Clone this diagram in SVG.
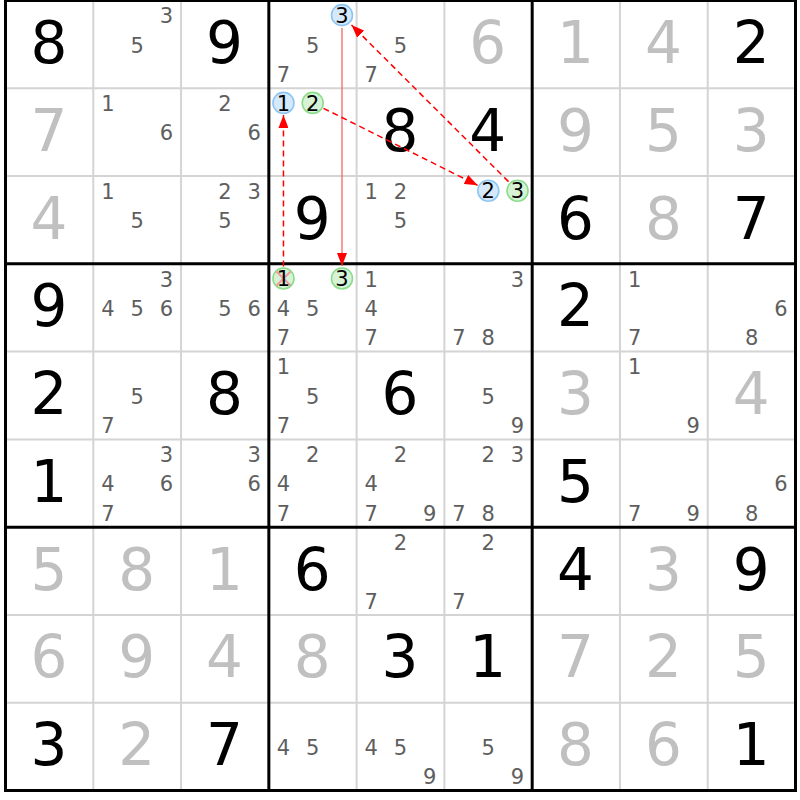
<svg xmlns="http://www.w3.org/2000/svg" width="800" height="800" viewBox="0 0 800 800">
<style>
text{font-family:"DejaVu Sans","Liberation Sans",sans-serif}
.g{font-size:58px;fill:#000;text-anchor:middle}
.s{font-size:58px;fill:#c0c0c0;text-anchor:middle}
.c{font-size:21px;fill:#5e5e5e;text-anchor:middle}
.k{font-size:21px;fill:#000;text-anchor:middle}
.thin{stroke:#d4d4d4;stroke-width:2}
.thick{stroke:#000;stroke-width:3}
.cb{fill:#d6e9fb;stroke:#8ec5f2;stroke-width:1.6}
.cg{fill:#d6f3d6;stroke:#8cdc8c;stroke-width:1.6}
.dash{stroke:#f00;stroke-width:1.5;stroke-dasharray:6,4;fill:none}
.solid{stroke:#f05a5a;stroke-width:1.2;fill:none}
</style>
<defs>
<marker id="ah" markerWidth="13" markerHeight="10" refX="13" refY="5" orient="auto" markerUnits="userSpaceOnUse"><path d="M0,0 L13,5 L0,10 z" fill="#f00"/></marker>
</defs>
<rect x="0" y="0" width="800" height="800" fill="#fff"/>
<g id="grid">
<g class="thin">
<line x1="93.28" y1="0.5" x2="93.28" y2="790.5"/><line x1="181.06" y1="0.5" x2="181.06" y2="790.5"/>
<line x1="356.62" y1="0.5" x2="356.62" y2="790.5"/><line x1="444.4" y1="0.5" x2="444.4" y2="790.5"/>
<line x1="619.96" y1="0.5" x2="619.96" y2="790.5"/><line x1="707.74" y1="0.5" x2="707.74" y2="790.5"/>
<line x1="5.5" y1="88.28" x2="795.5" y2="88.28"/><line x1="5.5" y1="176.06" x2="795.5" y2="176.06"/>
<line x1="5.5" y1="351.62" x2="795.5" y2="351.62"/><line x1="5.5" y1="439.4" x2="795.5" y2="439.4"/>
<line x1="5.5" y1="614.96" x2="795.5" y2="614.96"/><line x1="5.5" y1="702.74" x2="795.5" y2="702.74"/>
</g>
<g class="thick">
<line x1="268.84" y1="0.5" x2="268.84" y2="790.5"/><line x1="532.18" y1="0.5" x2="532.18" y2="790.5"/>
<line x1="5.5" y1="263.84" x2="795.5" y2="263.84"/><line x1="5.5" y1="527.18" x2="795.5" y2="527.18"/>
<rect x="5.5" y="0.5" width="790" height="790" fill="none"/>
</g>
</g>
<!-- Row 1 -->
<g id="r1c1"><text class="g" x="48.89" y="63">8</text></g>
<g id="r1c2"><text class="c" x="166.43" y="23.33">3</text><text class="c" x="137.17" y="52.59">5</text></g>
<g id="r1c3"><text class="g" x="224.45" y="63">9</text></g>
<g id="r1c4"><circle class="cb" cx="341.99" cy="15.13" r="10.5"/><text class="k" x="341.99" y="22.83">3</text><text class="c" x="312.73" y="52.59">5</text><text class="c" x="283.47" y="81.85">7</text></g>
<g id="r1c5"><text class="c" x="400.51" y="52.59">5</text><text class="c" x="371.25" y="81.85">7</text></g>
<g id="r1c6"><text class="s" x="487.79" y="63">6</text></g>
<g id="r1c7"><text class="s" x="575.57" y="63">1</text></g>
<g id="r1c8"><text class="s" x="663.35" y="63">4</text></g>
<g id="r1c9"><text class="g" x="751.13" y="63">2</text></g>
<!-- Row 2 -->
<g id="r2c1"><text class="s" x="48.89" y="150.78">7</text></g>
<g id="r2c2"><text class="c" x="107.91" y="111.11">1</text><text class="c" x="166.43" y="140.37">6</text></g>
<g id="r2c3"><text class="c" x="224.95" y="111.11">2</text><text class="c" x="254.21" y="140.37">6</text></g>
<g id="r2c4"><circle class="cb" cx="283.47" cy="102.91" r="10.5"/><text class="k" x="283.47" y="110.61">1</text><circle class="cg" cx="312.73" cy="102.91" r="10.5"/><text class="k" x="312.73" y="110.61">2</text></g>
<g id="r2c5"><text class="g" x="400.01" y="150.78">8</text></g>
<g id="r2c6"><text class="g" x="487.79" y="150.78">4</text></g>
<g id="r2c7"><text class="s" x="575.57" y="150.78">9</text></g>
<g id="r2c8"><text class="s" x="663.35" y="150.78">5</text></g>
<g id="r2c9"><text class="s" x="751.13" y="150.78">3</text></g>
<!-- Row 3 -->
<g id="r3c1"><text class="s" x="48.89" y="238.56">4</text></g>
<g id="r3c2"><text class="c" x="107.91" y="198.89">1</text><text class="c" x="137.17" y="228.15">5</text></g>
<g id="r3c3"><text class="c" x="224.95" y="198.89">2</text><text class="c" x="254.21" y="198.89">3</text><text class="c" x="224.95" y="228.15">5</text></g>
<g id="r3c4"><text class="g" x="312.23" y="238.56">9</text></g>
<g id="r3c5"><text class="c" x="371.25" y="198.89">1</text><text class="c" x="400.51" y="198.89">2</text><text class="c" x="400.51" y="228.15">5</text></g>
<g id="r3c6"><circle class="cb" cx="488.29" cy="190.69" r="10.5"/><text class="k" x="488.29" y="198.39">2</text><circle class="cg" cx="517.55" cy="190.69" r="10.5"/><text class="k" x="517.55" y="198.39">3</text></g>
<g id="r3c7"><text class="g" x="575.57" y="238.56">6</text></g>
<g id="r3c8"><text class="s" x="663.35" y="238.56">8</text></g>
<g id="r3c9"><text class="g" x="751.13" y="238.56">7</text></g>
<!-- Row 4 -->
<g id="r4c1"><text class="g" x="48.89" y="326.34">9</text></g>
<g id="r4c2"><text class="c" x="166.43" y="286.67">3</text><text class="c" x="107.91" y="315.93">4</text><text class="c" x="137.17" y="315.93">5</text><text class="c" x="166.43" y="315.93">6</text></g>
<g id="r4c3"><text class="c" x="224.95" y="315.93">5</text><text class="c" x="254.21" y="315.93">6</text></g>
<g id="r4c4"><circle class="cg" cx="283.47" cy="278.47" r="10.5"/><g stroke="#f39a9a" stroke-width="2"><line x1="276.5" y1="271.5" x2="290.5" y2="285.5"/><line x1="290.5" y1="271.5" x2="276.5" y2="285.5"/></g><text class="k" x="283.47" y="286.17">1</text><circle class="cg" cx="341.99" cy="278.47" r="10.5"/><text class="k" x="341.99" y="286.17">3</text><text class="c" x="283.47" y="315.93">4</text><text class="c" x="312.73" y="315.93">5</text><text class="c" x="283.47" y="345.19">7</text></g>
<g id="r4c5"><text class="c" x="371.25" y="286.67">1</text><text class="c" x="371.25" y="315.93">4</text><text class="c" x="371.25" y="345.19">7</text></g>
<g id="r4c6"><text class="c" x="517.55" y="286.67">3</text><text class="c" x="459.03" y="345.19">7</text><text class="c" x="488.29" y="345.19">8</text></g>
<g id="r4c7"><text class="g" x="575.57" y="326.34">2</text></g>
<g id="r4c8"><text class="c" x="634.59" y="286.67">1</text><text class="c" x="634.59" y="345.19">7</text></g>
<g id="r4c9"><text class="c" x="780.89" y="315.93">6</text><text class="c" x="751.63" y="345.19">8</text></g>
<!-- Row 5 -->
<g id="r5c1"><text class="g" x="48.89" y="414.12">2</text></g>
<g id="r5c2"><text class="c" x="137.17" y="403.71">5</text><text class="c" x="107.91" y="432.97">7</text></g>
<g id="r5c3"><text class="g" x="224.45" y="414.12">8</text></g>
<g id="r5c4"><text class="c" x="283.47" y="374.45">1</text><text class="c" x="312.73" y="403.71">5</text><text class="c" x="283.47" y="432.97">7</text></g>
<g id="r5c5"><text class="g" x="400.01" y="414.12">6</text></g>
<g id="r5c6"><text class="c" x="488.29" y="403.71">5</text><text class="c" x="517.55" y="432.97">9</text></g>
<g id="r5c7"><text class="s" x="575.57" y="414.12">3</text></g>
<g id="r5c8"><text class="c" x="634.59" y="374.45">1</text><text class="c" x="693.11" y="432.97">9</text></g>
<g id="r5c9"><text class="s" x="751.13" y="414.12">4</text></g>
<!-- Row 6 -->
<g id="r6c1"><text class="g" x="48.89" y="501.9">1</text></g>
<g id="r6c2"><text class="c" x="166.43" y="462.23">3</text><text class="c" x="107.91" y="491.49">4</text><text class="c" x="166.43" y="491.49">6</text><text class="c" x="107.91" y="520.75">7</text></g>
<g id="r6c3"><text class="c" x="254.21" y="462.23">3</text><text class="c" x="254.21" y="491.49">6</text></g>
<g id="r6c4"><text class="c" x="312.73" y="462.23">2</text><text class="c" x="283.47" y="491.49">4</text><text class="c" x="283.47" y="520.75">7</text></g>
<g id="r6c5"><text class="c" x="400.51" y="462.23">2</text><text class="c" x="371.25" y="491.49">4</text><text class="c" x="371.25" y="520.75">7</text><text class="c" x="429.77" y="520.75">9</text></g>
<g id="r6c6"><text class="c" x="488.29" y="462.23">2</text><text class="c" x="517.55" y="462.23">3</text><text class="c" x="459.03" y="520.75">7</text><text class="c" x="488.29" y="520.75">8</text></g>
<g id="r6c7"><text class="g" x="575.57" y="501.9">5</text></g>
<g id="r6c8"><text class="c" x="634.59" y="520.75">7</text><text class="c" x="693.11" y="520.75">9</text></g>
<g id="r6c9"><text class="c" x="780.89" y="491.49">6</text><text class="c" x="751.63" y="520.75">8</text></g>
<!-- Row 7 -->
<g id="r7c1"><text class="s" x="48.89" y="589.68">5</text></g>
<g id="r7c2"><text class="s" x="136.67" y="589.68">8</text></g>
<g id="r7c3"><text class="s" x="224.45" y="589.68">1</text></g>
<g id="r7c4"><text class="g" x="312.23" y="589.68">6</text></g>
<g id="r7c5"><text class="c" x="400.51" y="550.01">2</text><text class="c" x="371.25" y="608.53">7</text></g>
<g id="r7c6"><text class="c" x="488.29" y="550.01">2</text><text class="c" x="459.03" y="608.53">7</text></g>
<g id="r7c7"><text class="g" x="575.57" y="589.68">4</text></g>
<g id="r7c8"><text class="s" x="663.35" y="589.68">3</text></g>
<g id="r7c9"><text class="g" x="751.13" y="589.68">9</text></g>
<!-- Row 8 -->
<g id="r8c1"><text class="s" x="48.89" y="677.46">6</text></g>
<g id="r8c2"><text class="s" x="136.67" y="677.46">9</text></g>
<g id="r8c3"><text class="s" x="224.45" y="677.46">4</text></g>
<g id="r8c4"><text class="s" x="312.23" y="677.46">8</text></g>
<g id="r8c5"><text class="g" x="400.01" y="677.46">3</text></g>
<g id="r8c6"><text class="g" x="487.79" y="677.46">1</text></g>
<g id="r8c7"><text class="s" x="575.57" y="677.46">7</text></g>
<g id="r8c8"><text class="s" x="663.35" y="677.46">2</text></g>
<g id="r8c9"><text class="s" x="751.13" y="677.46">5</text></g>
<!-- Row 9 -->
<g id="r9c1"><text class="g" x="48.89" y="765.24">3</text></g>
<g id="r9c2"><text class="s" x="136.67" y="765.24">2</text></g>
<g id="r9c3"><text class="g" x="224.45" y="765.24">7</text></g>
<g id="r9c4"><text class="c" x="283.47" y="754.83">4</text><text class="c" x="312.73" y="754.83">5</text></g>
<g id="r9c5"><text class="c" x="371.25" y="754.83">4</text><text class="c" x="400.51" y="754.83">5</text><text class="c" x="429.77" y="784.09">9</text></g>
<g id="r9c6"><text class="c" x="488.29" y="754.83">5</text><text class="c" x="517.55" y="784.09">9</text></g>
<g id="r9c7"><text class="s" x="575.57" y="765.24">8</text></g>
<g id="r9c8"><text class="s" x="663.35" y="765.24">6</text></g>
<g id="r9c9"><text class="g" x="751.13" y="765.24">1</text></g>
<g id="connectors">
<line class="dash" x1="283.47" y1="266.5" x2="283.47" y2="115" marker-end="url(#ah)"/>
<line class="solid" x1="341.99" y1="28" x2="341.99" y2="266" marker-end="url(#ah)"/>
<line class="dash" x1="323.5" y1="108.3" x2="477.6" y2="185.3" marker-end="url(#ah)"/>
<line class="dash" x1="508.5" y1="181.6" x2="351.5" y2="25" marker-end="url(#ah)"/>
</g>
</svg>
